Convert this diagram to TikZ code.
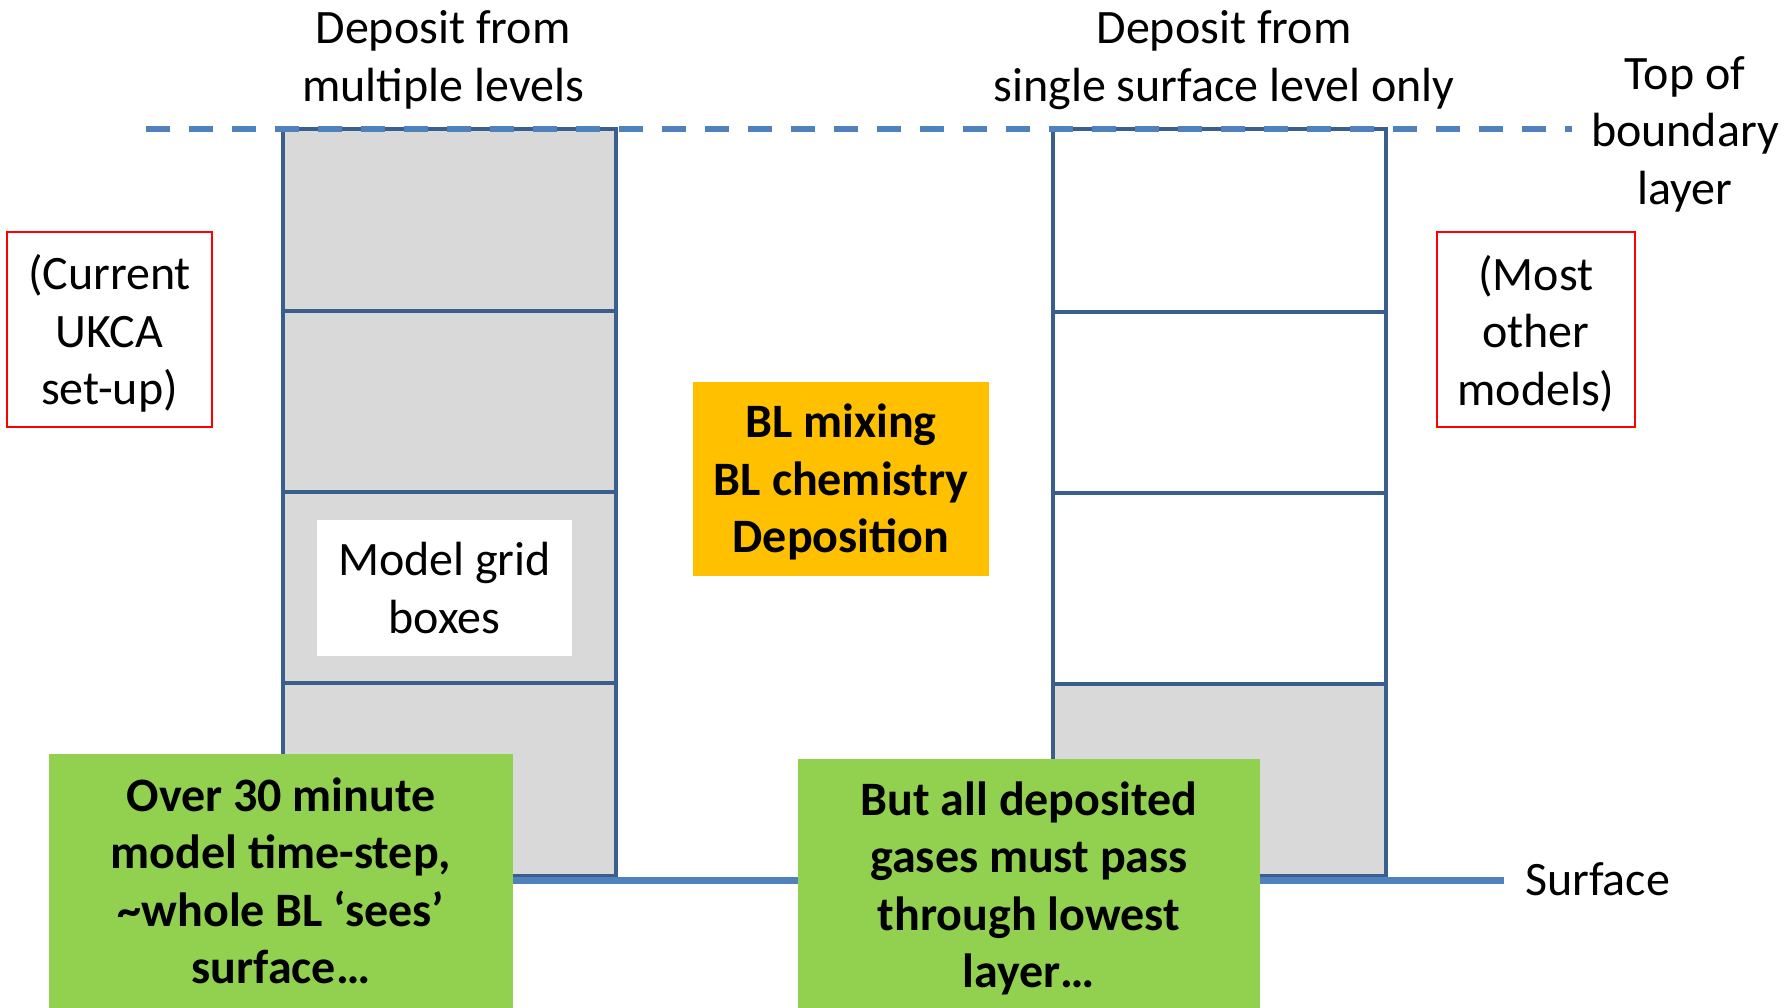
\documentclass[tikz,border=0pt]{standalone}
\usepackage{fontspec}
\setmainfont{Carlito}
\definecolor{colline}{HTML}{3A5F8D}
\definecolor{blueline}{HTML}{4F81BD}
\definecolor{cellgray}{HTML}{D9D9D9}
\definecolor{orangebox}{HTML}{FFC000}
\definecolor{greenbox}{HTML}{92D050}
\begin{document}
\begin{tikzpicture}[x=1pt,y=-1pt,
  cellbox/.style={draw=colline, line width=4.5pt},
  graycell/.style={cellbox, fill=cellgray},
  whitecell/.style={cellbox, fill=white},
  txt/.style={font=\fontsize{48}{57.5}\selectfont, align=center, inner sep=0pt},
  btxt/.style={font=\fontsize{48}{57.5}\selectfont\bfseries, align=center, inner sep=0pt},
  redbox/.style={draw=red, line width=2pt, inner sep=0pt}]
\fill[white] (0,0) rectangle (1790,1008);
\useasboundingbox (0,0) rectangle (1790,1008);
% left column (all grey)
\draw[graycell] (283,129) rectangle (616,311);
\draw[graycell] (283,311) rectangle (616,492);
\draw[graycell] (283,492) rectangle (616,683);
\draw[graycell] (283,683) rectangle (616,876);
% right column (only lowest grey)
\draw[whitecell] (1053,129) rectangle (1386,312);
\draw[whitecell] (1053,312) rectangle (1386,493);
\draw[whitecell] (1053,493) rectangle (1386,684);
\draw[graycell] (1053,684) rectangle (1386,876);
% surface line
\coordinate (s1) at (283,880);
\coordinate (s2) at (1504,880);
\draw[blueline, line width=7pt] (s1) -- (s2);
% top of boundary layer (dashed)
\coordinate (d1) at (146,129);
\coordinate (d2) at (1572,129);
\draw[blueline, line width=6pt, dash pattern=on 24pt off 19pt] (d1) -- (d2);
% labels
\node[txt] (lblmulti) at (443,60) {Deposit from\\multiple levels};
\node[txt] (lblsingle) at (1224,60) {Deposit from\\single surface level only};
\node[txt] (lbltop) at (1685,134) {Top of\\boundary\\layer};
\node[txt, anchor=base west] (lblsurf) at (1525,895) {Surface};
% red boxes
\node[redbox, minimum width=205pt, minimum height=195pt] (ukca) at (109.5,329.5) {};
\node[txt, yshift=-4pt] (ukcatxt) at (ukca.center) {(Current\\UKCA\\set-up)};
\node[redbox, minimum width=198pt, minimum height=195pt] (other) at (1536,329.5) {};
\node[txt, yshift=-4pt] (othertxt) at (other.center) {(Most\\other\\models)};
% orange box
\node[fill=orangebox, minimum width=296pt, minimum height=194pt, inner sep=0pt] (blmix) at (841,479) {};
\node[btxt, yshift=-3pt] (blmixtxt) at (blmix.center) {BL mixing\\BL chemistry\\Deposition};
% white label box
\node[txt, fill=white, minimum width=255pt, minimum height=136pt] (grid) at (444.5,588) {Model grid\\boxes};
% green boxes
\node[btxt, fill=greenbox, minimum width=464pt, minimum height=254pt] (over) at (281,881) {Over 30 minute\\model time-step,\\\textasciitilde whole BL ‘sees’\\surface…};
\node[fill=greenbox, minimum width=462pt, minimum height=249pt, inner sep=0pt] (but) at (1029,883.5) {};
\node[btxt, yshift=-5pt] (buttxt) at (but.center) {But all deposited\\gases must pass\\through lowest\\layer…};
\end{tikzpicture}
\end{document}
